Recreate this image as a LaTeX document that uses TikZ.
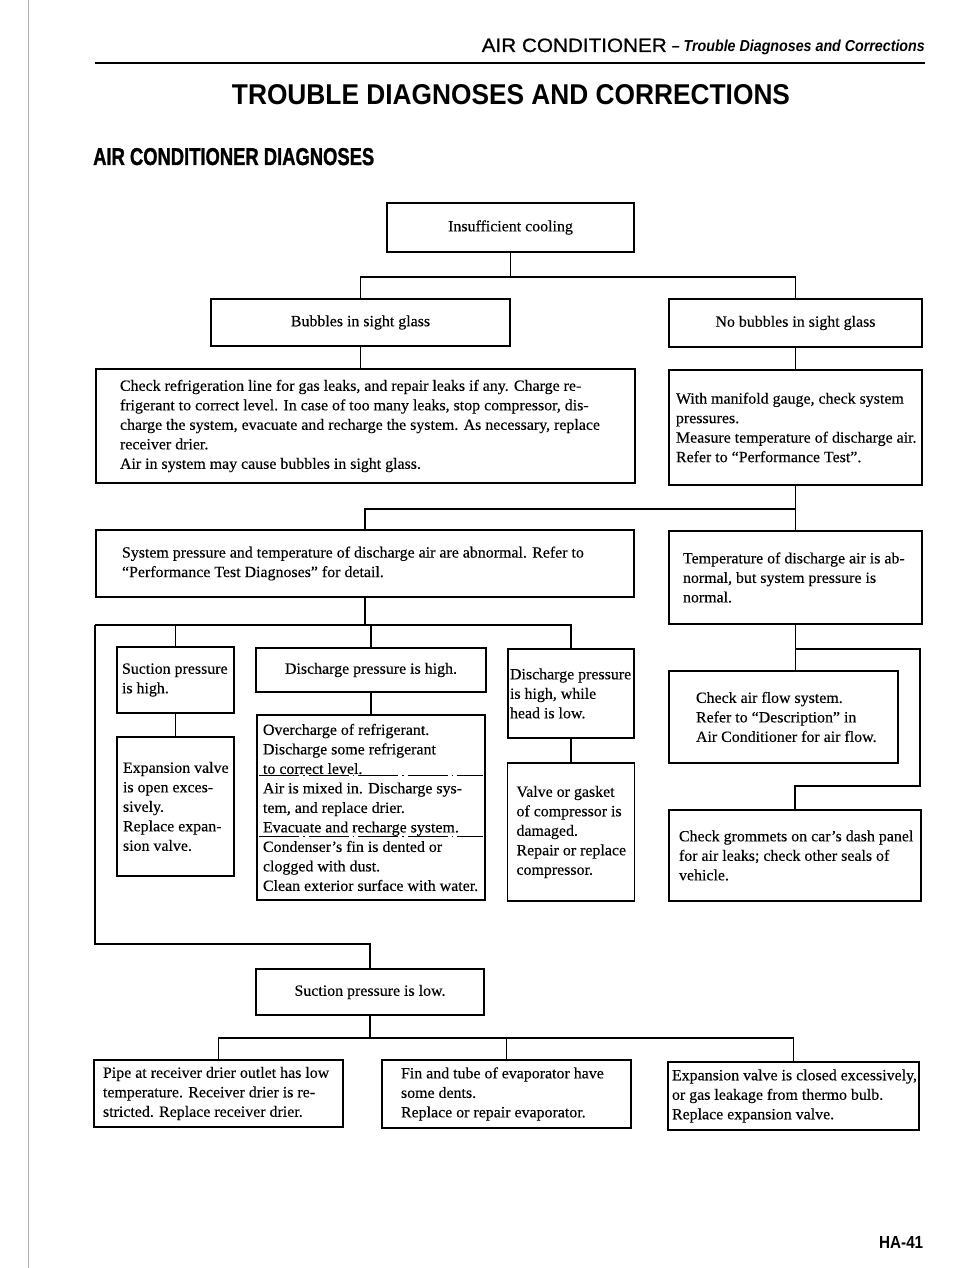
\documentclass[tikz,border=0pt]{standalone}
\usepackage{fontspec}
\setmainfont{Liberation Serif}[FakeStretch=1.02, FakeBold=0.25]
\setsansfont{Liberation Sans}
\newfontfamily\medfont{Liberation Sans}[FakeBold=0.7]
\newfontfamily\heavyfont{Liberation Sans Bold}[FakeBold=1.5]
\usepackage{graphicx}
\newcommand\body{\fontsize{15.6}{19.5}\selectfont}

\begin{document}
\begin{tikzpicture}[x=1pt, y=-1pt,
    box/.style={draw, line width=1.9pt, font=\body, inner ysep=0pt, inner xsep=2pt, align=flush left},
    cbox/.style={draw, line width=1.9pt, font=\body, inner sep=0pt, align=center},
    ind/.style={execute at begin node={\leftskip=#1pt\relax}},
    link/.style={line width=1.9pt},
    divider/.style={line width=0.9pt, dash pattern=on 40pt off 4pt on 1.5pt off 4pt,
                    shorten <=3pt, shorten >=3pt},
    head/.style={inner sep=0pt, font=\sffamily}
  ]
  \useasboundingbox (0,0) rectangle (960,1268);

  % Page heading
  \draw[gray!60, line width=0.6pt] (28,0) -- (28,1268);
  \node[head, anchor=base east] (hdr) at (925,52) {\resizebox{185pt}{13.5pt}{\medfont AIR CONDITIONER}\hspace{5pt}\resizebox{253pt}{11.5pt}{\bfseries\itshape -- Trouble Diagnoses and Corrections}};
  \draw[line width=2.5pt] (95,63) -- (925,63);
  \node[head, anchor=base] (title) at (511,105) {\resizebox{558pt}{20pt}{\bfseries TROUBLE DIAGNOSES AND CORRECTIONS}};
  \node[head, anchor=base west] (sub) at (93,165) {\resizebox{281pt}{17pt}{\heavyfont AIR CONDITIONER DIAGNOSES}};

  % Sight glass
  \node[cbox, minimum width=247pt, minimum height=49pt] (cool) at (510.5,227.5) {Insufficient cooling};
  \node[cbox, minimum width=299pt, minimum height=47pt] (bub) at (360.5,322.5) {Bubbles in sight glass};
  \node[cbox, minimum width=253pt, minimum height=48pt] (nobub) at (795.5,323) {No bubbles in sight glass};
  \node[box, ind=22, minimum width=539pt, minimum height=114pt, text width=535pt] (chk) at (365.5,426)
    {Check refrigeration line for gas leaks, and repair leaks if any.  Charge re-\\
     frigerant to correct level.  In case of too many leaks, stop compressor, dis-\\
     charge the system, evacuate and recharge the system.  As necessary, replace\\
     receiver drier.\\
     Air in system may cause bubbles in sight glass.};
  \node[box, ind=5, minimum width=253pt, minimum height=115pt, text width=249pt] (mani) at (795.5,427.5)
    {With manifold gauge, check system\\ pressures.\\ Measure temperature of discharge air.\\ Refer to ``Performance Test''.};
  \draw[link] (cool.south) -- ++(0,24) -| (bub.north);
  \draw[link] (cool.south) ++(0,24) -| (nobub.north);
  \draw[link] (bub.south) -- (bub.south |- chk.north);
  \draw[link] (nobub.south) -- (mani.north);

  % Pressure and temperature
  \node[box, ind=24, minimum width=538pt, minimum height=67pt, text width=534pt] (sys) at (365,563.5)
    {System pressure and temperature of discharge air are abnormal.  Refer to\\ ``Performance Test Diagnoses'' for detail.};
  \node[box, ind=12, minimum width=253pt, minimum height=93pt, text width=249pt] (temp) at (795.5,577.5)
    {Temperature of discharge air is ab-\\ normal, but system pressure is\\ normal.};
  \draw[link] (mani.south) -- (temp.north);
  \draw[link] (mani.south) ++(0,23) -| (sys.north);

  % Abnormal pressure
  \node[box, ind=3, minimum width=117pt, minimum height=66pt, text width=113pt] (suchi) at (175.5,680)
    {Suction pressure\\ is high.};
  \node[box, ind=4, minimum width=117pt, minimum height=139pt, text width=113pt] (expo) at (175.5,806.5)
    {Expansion valve\\ is open exces-\\ sively.\\ Replace expan-\\ sion valve.};
  \node[cbox, minimum width=230pt, minimum height=44pt] (dishi) at (371,670) {Discharge pressure is high.};
  \node[box, ind=4, minimum width=228pt, minimum height=185pt, text width=224pt] (over) at (371,807.5)
    {Overcharge of refrigerant.\\ Discharge some refrigerant\\ to correct level.\\
     Air is mixed in.  Discharge sys-\\ tem, and replace drier.\\ Evacuate and recharge system.\\
     Condenser's fin is dented or\\ clogged with dust.\\ Clean exterior surface with water.};
  \draw[divider] (over.west |- 0,775) -- (over.east |- 0,775);
  \draw[divider] (over.west |- 0,836) -- (over.east |- 0,836);
  \node[box, ind=1, inner xsep=1pt, minimum width=126pt, minimum height=89pt, text width=124pt] (dhead) at (571,693.5)
    {Discharge pressure\\ is high, while\\ head is low.};
  \node[box, ind=7, minimum width=127pt, minimum height=138pt, text width=123pt] (valve) at (571,832)
    {Valve or gasket\\ of compressor is\\ damaged.\\ Repair or replace\\ compressor.};
  \draw[link] (sys.south) -- ++(0,27) coordinate (bus);
  \draw[link] (bus -| sys.west) -| (dhead.north);
  \draw[link] (bus) -| (suchi.north);
  \draw[link] (bus) -| (dishi.north);
  \draw[link] (suchi.south) -- (expo.north);
  \draw[link] (dishi.south) -- (over.north);
  \draw[link] (dhead.south) -- (valve.north);

  % Abnormal temperature
  \node[box, ind=25, minimum width=229pt, minimum height=92pt, text width=225pt] (airflow) at (783.5,717)
    {Check air flow system.\\ Refer to ``Description'' in\\ Air Conditioner for air flow.};
  \node[box, ind=8, minimum width=252pt, minimum height=91pt, text width=248pt] (grom) at (795,855.5)
    {Check grommets on car's dash panel\\ for air leaks; check other seals of\\ vehicle.};
  \draw[link] (temp.south) -- (temp.south |- airflow.north);
  \draw[link] (temp.south) ++(0,24) -| ([xshift=-2pt, yshift=23pt]grom.north east) -| (grom.north);

  % Low suction
  \node[cbox, minimum width=228pt, minimum height=46pt] (suclo) at (370,992) {Suction pressure is low.};
  \node[box, ind=7, minimum width=249pt, minimum height=67pt, text width=245pt] (pipe) at (218.5,1093.5)
    {Pipe at receiver drier outlet has low\\ temperature.  Receiver drier is re-\\ stricted.  Replace receiver drier.};
  \node[box, ind=17, minimum width=249pt, minimum height=68pt, text width=245pt] (fin) at (506.5,1094)
    {Fin and tube of evaporator have\\ some dents.\\ Replace or repair evaporator.};
  \node[box, ind=2, minimum width=251pt, minimum height=68pt, text width=247pt] (expc) at (793.5,1096)
    {Expansion valve is closed excessively,\\ or gas leakage from thermo bulb.\\ Replace expansion valve.};
  \draw[link] (bus -| sys.west) |- ([yshift=24pt]suclo.north) -- (suclo.north);
  \draw[link] (suclo.south) -- ++(0,22) coordinate (lo);
  \draw[link] (lo) -| (pipe.north);
  \draw[link] (lo) -| (fin.north);
  \draw[link] (lo) -| (expc.north);

  % Page number
  \node[head, anchor=base west] (pg) at (879,1248) {\resizebox{44pt}{12pt}{\bfseries HA-41}};
\end{tikzpicture}
\end{document}
